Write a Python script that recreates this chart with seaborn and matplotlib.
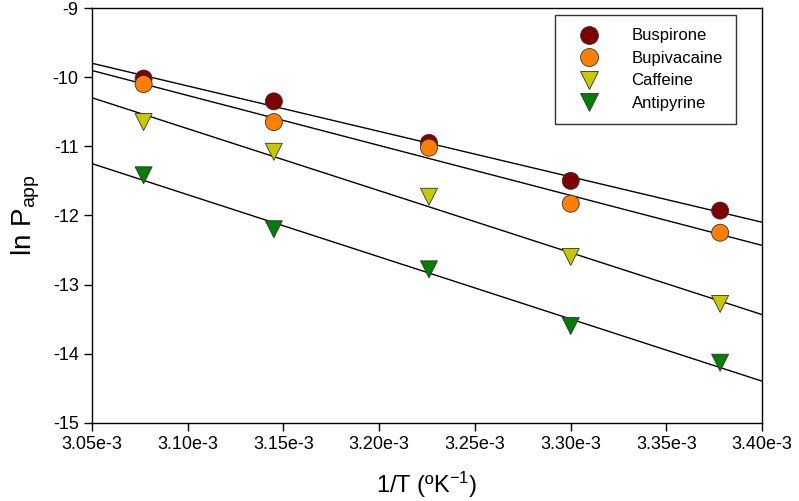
import numpy as np
import pandas as pd
import seaborn as sns
import matplotlib.pyplot as plt
from matplotlib.ticker import FuncFormatter

# 1/T values (1/K) and ln Papp
inv_t = [3.077e-3, 3.145e-3, 3.226e-3, 3.300e-3, 3.378e-3]
buspirone = [-10.02, -10.35, -10.95, -11.50, -11.93]
bupivacaine = [-10.10, -10.65, -11.02, -11.83, -12.25]
caffeine = [-10.65, -11.08, -11.73, -12.60, -13.28]
antipyrine = [-11.42, -12.20, -12.78, -13.60, -14.13]

drugs = ['Buspirone', 'Bupivacaine', 'Caffeine', 'Antipyrine']
colors = ['#7f0000', '#ff8000', '#c8c800', '#007f00']
markers = ['o', 'o', 'v', 'v']

df = pd.DataFrame({
    'x': inv_t * 4,
    'y': buspirone + bupivacaine + caffeine + antipyrine,
    'drug': [d for d in drugs for _ in inv_t],
})

sns.set_style('ticks')
plt.rcParams['font.family'] = ['Liberation Sans', 'DejaVu Sans']
plt.rcParams['mathtext.fontset'] = 'custom'
plt.rcParams['mathtext.rm'] = 'Liberation Sans'
plt.rcParams['mathtext.default'] = 'regular'
plt.rcParams['axes.unicode_minus'] = False
for k in ['text.color', 'axes.labelcolor', 'xtick.color', 'ytick.color']:
    plt.rcParams[k] = 'black'

fig = plt.figure(figsize=(7.99, 5.01), dpi=100)
ax = fig.add_axes([0.115, 0.156, 0.839, 0.828])
ax.set_xlim(3.05e-3, 3.40e-3)
ax.set_ylim(-15, -9)

# fitted lines across the whole axis
for d in drugs:
    sub = df[df['drug'] == d]
    sns.regplot(x='x', y='y', data=sub, ax=ax, scatter=False, ci=None,
                truncate=False, color='black', line_kws={'lw': 1.0})

sns.scatterplot(x='x', y='y', data=df, hue='drug', style='drug',
                hue_order=drugs, style_order=drugs,
                palette=dict(zip(drugs, colors)), markers=dict(zip(drugs, markers)),
                s=150, edgecolor='#333333', linewidth=0.6, ax=ax, zorder=3)

ax.set_xlim(3.05e-3, 3.40e-3)
ax.set_ylim(-15, -9)
ax.set_xticks(np.arange(3.05e-3, 3.401e-3, 0.05e-3))
ax.xaxis.set_major_formatter(FuncFormatter(lambda v, p: '{:.2f}e-3'.format(v * 1e3)))
ax.set_yticks([-9, -10, -11, -12, -13, -14, -15])
ax.tick_params(axis='both', labelsize=13, length=6, width=1, color='black',
               direction='out', top=False, right=False)
for sp in ax.spines.values():
    sp.set_linewidth(1.0)
    sp.set_color('black')

ax.set_xlabel('1/T (\u00baK$^{-1}$)', fontsize=17, labelpad=12)
ax.set_ylabel('ln P$_{app}$', fontsize=20, labelpad=8)

leg = ax.legend(loc='upper right', bbox_to_anchor=(0.961, 0.983), borderaxespad=0,
                fontsize=12, frameon=True, fancybox=False, edgecolor='black',
                handletextpad=1.3, borderpad=0.8, labelspacing=0.45, markerscale=1.05,
                handlelength=2.5)
leg.get_frame().set_linewidth(1.0)

fig.savefig('out.png', dpi=100)
